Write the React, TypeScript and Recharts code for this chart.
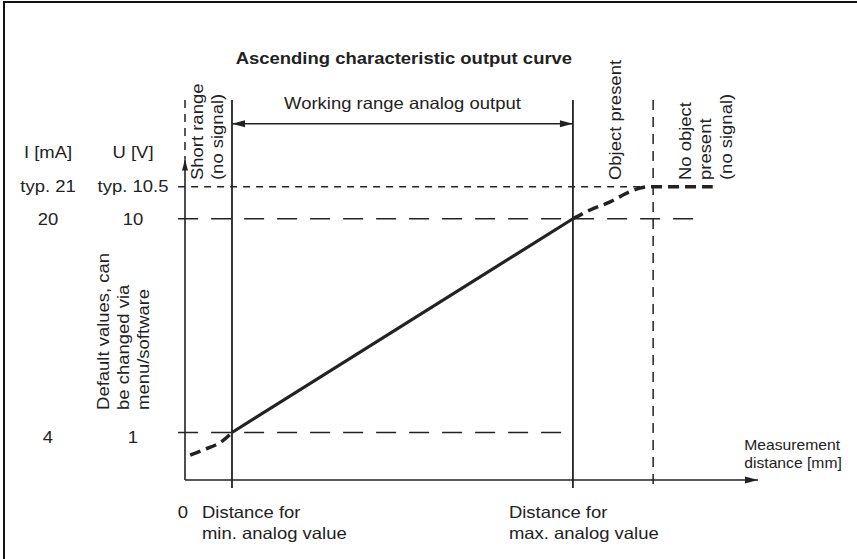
import React from 'react';
import { LineChart, Line, XAxis, YAxis, ReferenceLine, ReferenceDot } from 'recharts';

// distance axis (schematic units), marked positions
const distanceTicks = [0, 8.2, 67.7];
const distanceTickLabels = [['0'], ['Distance for', 'min. analog value'], ['Distance for', 'max. analog value']];
const minAnalog = 8.2;
const maxAnalog = 67.7;
const noObjectAt = 81.7;

// output levels (schematic units), with the two label columns
const levelTicks = [1, 10, 11.35, 12.8];
const currentLabels = ['4', '20', 'typ. 21', 'I [mA]'];
const voltageLabels = ['1', '10', 'typ. 10.5', 'U [V]'];
const typLevel = 11.35;

// the output curve, in three pieces
const shortRangeCurve = [
  { x: 0.9, y: 0.05 },
  { x: 3.1, y: 0.26 },
  { x: 6.5, y: 0.64 },
  { x: 8.2, y: 1 },
];
const workingCurve = [
  { x: 8.2, y: 1 },
  { x: 67.7, y: 10 },
];
const overRangeCurve = [
  { x: 67.7, y: 10 },
  { x: 70.7, y: 10.37 },
  { x: 74.2, y: 10.71 },
  { x: 77.1, y: 11.08 },
  { x: 79.4, y: 11.29 },
  { x: 81.2, y: 11.35 },
  { x: 92.1, y: 11.35 },
];

const INK = '#222';
const FONT = '"Liberation Sans", Arial, Helvetica, sans-serif';
const SX = 1.12; // the source lettering is a little wider than Arial

function Txt({ x, y, lines, anchor = 'middle', rotate = 0, size = 16.5, bold = false, lh = 20.5 }: any) {
  return (
    <g transform={`translate(${x},${y}) rotate(${rotate}) scale(${SX},1)`}>
      {lines.map((l: string, i: number) => (
        <text
          key={i}
          x={0}
          y={i * lh}
          dy="0.35em"
          textAnchor={anchor}
          fontFamily={FONT}
          fontSize={size}
          fontWeight={bold ? 'bold' : 'normal'}
          fill={INK}
        >
          {l}
        </text>
      ))}
    </g>
  );
}

const arrowLine = (startHead: boolean, endHead: boolean, len = 12, half = 3.5, dash?: string) => (p: any) => {
  const { x1, y1, x2, y2 } = p;
  const a = Math.atan2(y2 - y1, x2 - x1);
  const head = (tx: number, ty: number, ang: number) => {
    const bx = tx - len * Math.cos(ang);
    const by = ty - len * Math.sin(ang);
    const px = -Math.sin(ang) * half;
    const py = Math.cos(ang) * half;
    return `${tx},${ty} ${bx + px},${by + py} ${bx - px},${by - py}`;
  };
  return (
    <g>
      <line x1={x1} y1={y1} x2={x2} y2={y2} stroke={INK} strokeWidth={1.6} strokeDasharray={dash} />
      {endHead && <polygon points={head(x2, y2, a)} fill={INK} />}
      {startHead && <polygon points={head(x1, y1, a + Math.PI)} fill={INK} />}
    </g>
  );
};

const note = (lines: string[], opts: any = {}) => (p: any) => <Txt x={p.cx} y={p.cy} lines={lines} {...opts} />;

const LevelTick = (p: any) => {
  const i = p.index;
  const dy = i === 0 ? 5 : 0;
  return (
    <g>
      <Txt x={p.x - 137} y={p.y + dy} lines={[currentLabels[i]]} />
      <Txt x={p.x - 52} y={p.y + dy} lines={[voltageLabels[i]]} />
    </g>
  );
};

const DistanceTick = (p: any) => {
  const i = p.index;
  const dx = [-2, -30, -64][i];
  return <Txt x={p.x + dx} y={p.y + 32} lines={distanceTickLabels[i]} anchor={i === 0 ? 'middle' : 'start'} lh={21} />;
};

export default function App() {
  const seg = (a: [number, number], b: [number, number]) => [
    { x: a[0], y: a[1] },
    { x: b[0], y: b[1] },
  ];
  return (
    <div style={{ position: 'absolute', left: 0, top: 0, width: 857, height: 559, background: '#fff' }}>
      <div
        style={{
          position: 'absolute',
          left: 3,
          top: 1,
          width: 860,
          height: 570,
          borderTop: '2px solid #111',
          borderLeft: '2px solid #111',
        }}
      />
      <LineChart width={857} height={559} margin={{ top: 100, right: 99, bottom: 0, left: 0 }}>
        <XAxis
          type="number"
          dataKey="x"
          domain={[0, 100]}
          allowDataOverflow
          ticks={distanceTicks}
          interval={0}
          axisLine={false}
          tickLine={false}
          tickSize={0}
          tickMargin={0}
          height={79}
          tick={<DistanceTick />}
        />
        <YAxis
          type="number"
          dataKey="y"
          domain={[-1, 15]}
          allowDataOverflow
          ticks={levelTicks}
          interval={0}
          axisLine={false}
          tickLine={false}
          tickSize={0}
          tickMargin={0}
          width={185}
          tick={<LevelTick />}
        />

        {/* level guide lines */}
        <ReferenceLine segment={seg([-1.2, typLevel], [80, typLevel])} ifOverflow="visible" stroke={INK} strokeWidth={1.5} strokeDasharray="7 6" />
        <ReferenceLine segment={seg([-1.2, 10], [90.2, 10])} ifOverflow="visible" stroke={INK} strokeWidth={1.5} strokeDasharray="20 13" />
        <ReferenceLine segment={seg([-1.2, 1], [maxAnalog, 1])} ifOverflow="visible" stroke={INK} strokeWidth={1.5} strokeDasharray="20 13" />

        {/* distance markers */}
        <ReferenceLine segment={seg([minAnalog, 15], [minAnalog, -1.34])} ifOverflow="visible" stroke={INK} strokeWidth={1.8} />
        <ReferenceLine segment={seg([maxAnalog, 15], [maxAnalog, -1.34])} ifOverflow="visible" stroke={INK} strokeWidth={1.8} />
        <ReferenceLine segment={seg([noObjectAt, 15], [noObjectAt, -1.34])} ifOverflow="visible" stroke={INK} strokeWidth={1.5} strokeDasharray="10 7" />
        <ReferenceLine segment={seg([0, 15], [0, 12.5])} ifOverflow="visible" stroke={INK} strokeWidth={1.5} strokeDasharray="8 6" />

        {/* axes with arrows */}
        <ReferenceLine segment={seg([0, -1], [0, 12.5])} ifOverflow="visible" shape={arrowLine(false, true, 11, 3)} />
        <ReferenceLine segment={seg([0, -1], [100, -1])} ifOverflow="visible" shape={arrowLine(false, true, 13, 3.5)} />
        <ReferenceLine segment={seg([minAnalog, 14], [maxAnalog, 14])} ifOverflow="visible" shape={arrowLine(true, true, 13, 3.5)} />

        <Line data={shortRangeCurve} dataKey="y" type="monotone" stroke={INK} strokeWidth={3.5} strokeDasharray="11 6" dot={false} isAnimationActive={false} />
        <Line data={workingCurve} dataKey="y" type="linear" stroke={INK} strokeWidth={3.2} dot={false} isAnimationActive={false} />
        <Line data={overRangeCurve} dataKey="y" type="monotone" stroke={INK} strokeWidth={3.5} strokeDasharray="11 6" dot={false} isAnimationActive={false} />

        {/* annotations */}
        <ReferenceDot x={38.2} y={16.77} r={0} ifOverflow="visible" shape={note(['Ascending characteristic output curve'], { bold: true })} />
        <ReferenceDot x={(minAnalog + maxAnalog) / 2} y={14.87} r={0} ifOverflow="visible" shape={note(['Working range analog output'])} />
        <ReferenceDot x={2.1} y={11.63} r={0} ifOverflow="visible" shape={note(['Short range', '(no signal)'], { rotate: -90, anchor: 'start', lh: 20 })} />
        <ReferenceDot x={75.0} y={11.63} r={0} ifOverflow="visible" shape={note(['Object present'], { rotate: -90, anchor: 'start' })} />
        <ReferenceDot x={87.3} y={11.63} r={0} ifOverflow="visible" shape={note(['No object', 'present', '(no signal)'], { rotate: -90, anchor: 'start' })} />
        <ReferenceDot x={-14.3} y={1.95} r={0} ifOverflow="visible" shape={note(['Default values, can', 'be changed via', 'menu/software'], { rotate: -90, anchor: 'start', lh: 20 })} />
        <ReferenceDot x={97.6} y={0.47} r={0} ifOverflow="visible" shape={note(['Measurement', 'distance [mm]'], { anchor: 'start', size: 14, lh: 18 })} />
      </LineChart>
    </div>
  );
}
